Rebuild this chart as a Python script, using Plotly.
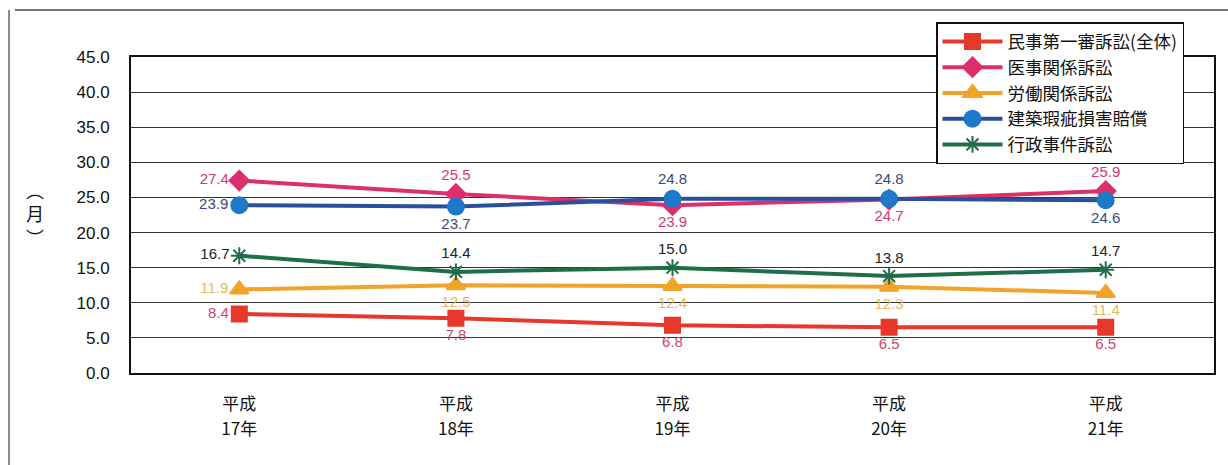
import plotly.graph_objects as go

era_labels = ["平成", "平成", "平成", "平成", "平成"]
year_labels = ["17年", "18年", "19年", "20年", "21年"]
series_names = ["民事第一審訴訟(全体)", "医事関係訴訟", "労働関係訴訟", "建築瑕疵損害賠償", "行政事件訴訟"]
civil_all = [8.4, 7.8, 6.8, 6.5, 6.5]
medical = [27.4, 25.5, 23.9, 24.7, 25.9]
labor = [11.9, 12.5, 12.4, 12.3, 11.4]
construction = [23.9, 23.7, 24.8, 24.8, 24.6]
administrative = [16.7, 14.4, 15.0, 13.8, 14.7]
y_ticks = [0, 5, 10, 15, 20, 25, 30, 35, 40, 45]

FONT = "Liberation Sans, Arial, Noto Sans CJK JP, sans-serif"
JFONT = "Noto Sans CJK JP, Liberation Sans, sans-serif"

specs = [
    (series_names[0], civil_all, "#e8372b", "#e8372b", "square", 15,
     ["middle left", "bottom center", "bottom center", "bottom center", "bottom center"], "#c8486a"),
    (series_names[1], medical, "#dc2f6e", "#dc2f6e", "diamond", 15,
     ["middle left", "top center", "bottom center", "bottom center", "top center"], "#cf3b72"),
    (series_names[2], labor, "#f0a428", "#f0a428", "triangle-up", 16,
     ["middle left", "bottom center", "bottom center", "bottom center", "bottom center"], "#e8b860"),
    (series_names[3], construction, "#2a4f9c", "#1f78c8", "circle", 16,
     ["middle left", "bottom center", "top center", "top center", "bottom center"], "#3a4a78"),
    (series_names[4], administrative, "#1e6e48", "#1e6e48", "asterisk-open", 14,
     ["middle left", "top center", "top center", "top center", "top center"], "#222222"),
]

xs = list(range(len(year_labels)))

fig = go.Figure()
for name, vals, lcol, mcol, sym, size, tpos, tcol in specs:
    fig.add_trace(go.Scatter(
        x=xs, y=vals, name=name,
        mode="lines+markers+text",
        line=dict(color=lcol, width=4),
        marker=dict(symbol=sym, size=size, color=mcol, line=dict(color=mcol, width=2)),
        text=[f"{v:.1f}" for v in vals], textposition=tpos,
        textfont=dict(family=FONT, size=15, color=tcol),
        cliponaxis=False,
    ))

# invisible helper trace so the second (year) tick-label axis is drawn
fig.add_trace(go.Scatter(
    x=xs, y=civil_all, xaxis="x2", mode="markers",
    marker=dict(opacity=0), showlegend=False, hoverinfo="skip",
))

L, R, T, B = 131, 1214, 57, 373
W, H = 1228, 465
pw, ph = R - L, B - T

def px_x(p):
    return (p - L) / pw

def px_y(p):
    return (B - p) / ph

fig.update_layout(
    width=W, height=H,
    margin=dict(l=L, r=W - R, t=T, b=H - B, pad=0),
    paper_bgcolor="white", plot_bgcolor="white",
    font=dict(family=JFONT, size=17, color="#111111"),
    showlegend=True,
    legend=dict(
        x=px_x(936), y=px_y(22), xanchor="left", yanchor="top",
        bgcolor="white", bordercolor="#111111", borderwidth=1.5,
        font=dict(family=JFONT, size=17.5, color="#111111"),
        itemwidth=60, tracegroupgap=0,
    ),
    xaxis=dict(
        range=[-0.5, 4.5], tickmode="array",
        tickvals=xs, ticktext=era_labels,
        showgrid=False, showline=True, linecolor="#111111", linewidth=2, mirror=True,
        ticks="", tickfont=dict(family=JFONT, size=17, color="#111111"),
        ticklabelstandoff=15, zeroline=False,
    ),
    xaxis2=dict(
        range=[-0.5, 4.5], overlaying="x", side="bottom", anchor="y",
        tickmode="array", tickvals=xs, ticktext=year_labels,
        showgrid=False, showline=False, ticks="", zeroline=False,
        tickfont=dict(family=JFONT, size=17, color="#111111"),
        ticklabelstandoff=44,
    ),
    yaxis=dict(
        range=[0, 45], tickmode="array", tickvals=y_ticks,
        ticktext=[f"{v:.1f}" for v in y_ticks],
        showgrid=True, gridcolor="#333333", gridwidth=1,
        showline=True, linecolor="#111111", linewidth=2, mirror=True,
        ticks="", tickfont=dict(family=FONT, size=17, color="#111111"),
        ticklabelstandoff=16, zeroline=False,
    ),
    annotations=[dict(
        text="︵<br>月<br>︶", xref="paper", yref="paper",
        x=px_x(35), y=px_y(213), xanchor="center", yanchor="middle",
        showarrow=False, font=dict(family=JFONT, size=18, color="#111111"),
    )],
    shapes=[
        dict(type="line", xref="paper", yref="paper",
             x0=px_x(15), x1=px_x(1228), y0=px_y(10), y1=px_y(10),
             line=dict(color="#444444", width=1.5)),
        dict(type="line", xref="paper", yref="paper",
             x0=px_x(9), x1=px_x(9), y0=px_y(10), y1=px_y(465),
             line=dict(color="#666666", width=1.5)),
    ],
)

fig.write_html("out.html")
